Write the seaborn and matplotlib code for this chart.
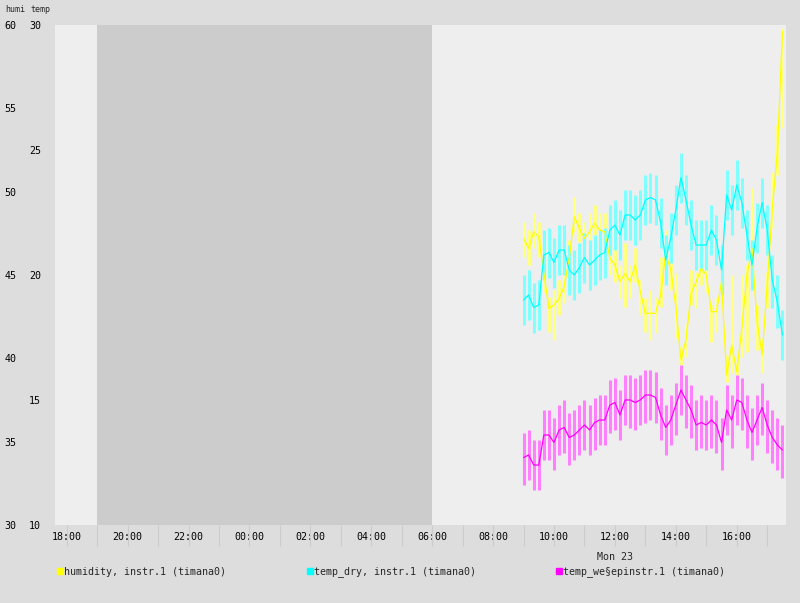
import pandas as pd
import matplotlib
matplotlib.use("Agg")
import matplotlib.pyplot as plt
import matplotlib.dates as mdates
from matplotlib.lines import Line2D
import seaborn as sns

# samples every 10 minutes, Mon 23 09:00 .. 17:30
times = pd.date_range("2015-03-23 09:00", periods=52, freq="10min")

humi = [47.2, 46.6, 47.6, 47.3, 45.1, 43.0, 43.2, 43.6, 44.3, 46.0,
        48.5, 47.8, 47.2, 47.6, 48.1, 47.7, 47.6, 46.0, 45.6, 44.6,
        45.1, 44.6, 45.6, 44.0, 42.7, 42.7, 42.7, 43.8, 46.3, 45.3,
        43.1, 39.9, 41.1, 43.9, 44.6, 45.4, 45.0, 42.8, 42.8, 44.6,
        39.0, 40.8, 39.2, 41.8, 45.0, 46.6, 42.2, 40.2, 44.4, 49.0,
        52.4, 59.6]
humi_lo = [46.1, 45.6, 46.6, 46.1, 44.0, 41.6, 41.1, 42.6, 43.3, 45.0,
           47.6, 47.0, 46.8, 47.1, 47.4, 47.0, 46.4, 45.0, 44.6, 43.6,
           43.1, 43.6, 44.6, 42.6, 41.6, 41.1, 41.5, 43.1, 45.4, 44.1,
           41.2, 39.6, 40.1, 43.2, 43.0, 44.4, 44.0, 41.0, 41.6, 43.6,
           38.6, 39.1, 39.0, 40.1, 40.4, 45.6, 40.5, 39.1, 43.0, 47.8,
           51.0, 53.8]
humi_hi = [48.2, 47.7, 48.7, 48.2, 46.1, 43.7, 44.1, 44.7, 45.4, 47.1,
           49.7, 48.7, 48.2, 48.7, 49.2, 48.7, 48.7, 46.5, 46.7, 45.6,
           46.9, 45.6, 46.6, 44.7, 43.6, 44.1, 43.7, 46.1, 47.7, 46.3,
           45.1, 40.7, 42.1, 45.3, 45.2, 46.5, 46.1, 43.2, 43.6, 45.7,
           40.2, 45.0, 39.8, 45.0, 45.6, 50.2, 43.2, 41.2, 45.2, 51.2,
           54.0, 59.8]

temp_dry = [19.0, 19.2, 18.7, 18.8, 20.8, 20.9, 20.5, 21.0, 21.0, 20.2,
            20.0, 20.3, 20.7, 20.4, 20.6, 20.8, 20.9, 21.8, 22.0, 21.6,
            22.4, 22.4, 22.2, 22.4, 23.0, 23.1, 23.0, 22.1, 20.6, 21.5,
            22.6, 23.9, 23.0, 22.0, 21.2, 21.2, 21.2, 21.8, 21.4, 20.2,
            23.2, 22.6, 23.6, 22.9, 21.6, 20.4, 21.9, 22.9, 21.8, 19.8,
            18.9, 17.6]
temp_dry_lo = [18.0, 18.2, 17.7, 17.8, 19.8, 19.9, 19.5, 20.0, 20.0, 19.2,
               19.0, 19.3, 19.7, 19.4, 19.6, 19.8, 19.9, 20.8, 21.0, 20.6,
               21.4, 21.4, 21.2, 21.4, 22.0, 22.1, 22.0, 21.1, 19.6, 20.5,
               21.6, 22.9, 22.0, 21.0, 20.2, 20.2, 20.2, 20.8, 20.4, 19.2,
               22.2, 21.6, 22.6, 21.9, 20.6, 19.4, 20.9, 21.9, 20.8, 18.7,
               17.9, 16.6]
temp_dry_hi = [20.0, 20.2, 19.7, 19.8, 21.8, 21.9, 21.5, 22.0, 22.0, 21.2,
               21.0, 21.3, 21.7, 21.4, 21.6, 21.8, 21.9, 22.8, 23.0, 22.6,
               23.4, 23.4, 23.2, 23.4, 24.0, 24.1, 24.0, 23.1, 21.6, 22.5,
               23.6, 24.9, 24.0, 23.0, 22.2, 22.2, 22.2, 22.8, 22.4, 21.2,
               24.2, 23.6, 24.6, 23.9, 22.6, 21.4, 22.9, 23.9, 22.8, 20.8,
               20.0, 18.6]

temp_wet = [12.7, 12.8, 12.4, 12.4, 13.6, 13.6, 13.3, 13.8, 13.9, 13.5,
            13.6, 13.8, 14.0, 13.8, 14.1, 14.2, 14.2, 14.8, 14.9, 14.4,
            15.0, 15.0, 14.9, 15.0, 15.2, 15.2, 15.1, 14.4, 13.9, 14.2,
            14.8, 15.4, 15.0, 14.6, 14.0, 14.1, 14.0, 14.2, 14.0, 13.3,
            14.6, 14.2, 15.0, 14.9, 14.2, 13.7, 14.2, 14.7, 14.0, 13.5,
            13.2, 13.0]
temp_wet_lo = [11.6, 11.8, 11.4, 11.4, 12.6, 12.6, 12.2, 12.8, 12.9, 12.4,
               12.6, 12.8, 13.0, 12.8, 13.0, 13.2, 13.2, 13.7, 13.8, 13.4,
               14.0, 13.9, 13.8, 14.0, 14.1, 14.2, 14.1, 13.4, 12.8, 13.2,
               13.6, 14.4, 13.9, 13.5, 13.0, 13.1, 13.0, 13.1, 12.9, 12.2,
               13.6, 13.1, 14.0, 13.8, 13.1, 12.6, 13.2, 13.6, 12.9, 12.5,
               12.2, 11.9]
temp_wet_hi = [13.7, 13.8, 13.4, 13.4, 14.6, 14.6, 14.3, 14.8, 15.0, 14.5,
               14.6, 14.8, 15.0, 14.8, 15.1, 15.2, 15.2, 15.8, 15.9, 15.4,
               16.0, 16.0, 15.9, 16.0, 16.2, 16.2, 16.1, 15.5, 14.8, 15.2,
               15.7, 16.4, 16.0, 15.6, 15.0, 15.2, 15.0, 15.2, 15.0, 14.3,
               15.6, 15.2, 16.0, 15.9, 15.2, 14.7, 15.2, 15.7, 15.0, 14.6,
               14.3, 14.0]

humi_ticks = [30, 35, 40, 45, 50, 55, 60]
temp_ticks = [10, 15, 20, 25, 30]
legend_labels = ["humidity, instr.1 (timana0)",
                 "temp_dry, instr.1 (timana0)",
                 "temp_we\u00a7epinstr.1 (timana0)"]

night_start = pd.Timestamp("2015-03-22 19:00")
night_end = pd.Timestamp("2015-03-23 06:00")
x_start = pd.Timestamp("2015-03-22 17:37")
x_end = pd.Timestamp("2015-03-23 17:37")
date_label_at = pd.Timestamp("2015-03-23 12:00")

df = pd.DataFrame({"time": times, "humi": humi, "temp_dry": temp_dry,
                   "temp_wet": temp_wet})

sns.set_theme(style="white")
plt.rcParams["font.family"] = ["DejaVu Sans Mono"]
plt.rcParams["font.size"] = 7.2

W, H = 800, 603
fig = plt.figure(figsize=(W / 100, H / 100), dpi=100, facecolor="#dddddd")
ax = fig.add_axes([55 / W, 1 - 525 / H, 731 / W, 500 / H])
axt = ax.twinx()
ax.set_facecolor("#eeeeee")
ax.set_ylim(30, 60)
axt.set_ylim(10, 30)

# everything lives in ax so the z-order can interleave humidity and temps;
# temperature series use the twin axis' data transform
tt = axt.transData
bar_w = 2.2

ax.axvspan(night_start, night_end, color="#cccccc", lw=0, zorder=0)
ax.vlines(times, humi_lo, humi_hi, color="#ffff80", lw=bar_w, zorder=1)
ax.vlines(times, temp_dry_lo, temp_dry_hi, color="#80ffff", lw=bar_w,
          zorder=1.1, transform=tt)
ax.vlines(times, temp_wet_lo, temp_wet_hi, color="#ff80ff", lw=bar_w,
          zorder=1.2, transform=tt)

sns.lineplot(data=df, x="time", y="humi", ax=ax, color="#ffff00", lw=0.9,
             errorbar=None, zorder=3)
sns.lineplot(data=df, x="time", y="temp_dry", ax=ax, color="#00ffff", lw=0.9,
             errorbar=None, zorder=3.1, transform=tt)
sns.lineplot(data=df, x="time", y="temp_wet", ax=ax, color="#ff00ff", lw=0.9,
             errorbar=None, zorder=3.2, transform=tt)

ax.set_xlim(x_start, x_end)
ax.set_ylim(30, 60)
axt.set_ylim(10, 30)
ax.set_xlabel("")
ax.set_ylabel("")

ax.xaxis.set_major_locator(mdates.HourLocator(byhour=range(0, 24, 2)))
ax.xaxis.set_major_formatter(mdates.DateFormatter("%H:%M"))
ax.xaxis.set_minor_locator(mdates.HourLocator())
ax.xaxis.remove_overlapping_locs = False
ax.tick_params(axis="x", which="major", length=0, pad=5, labelsize=7.2,
               labelcolor="black")
ax.tick_params(axis="x", which="minor", length=15, width=0.8,
               color="#cbcbcb", direction="out", bottom=True)

ax.set_yticks(humi_ticks)
ax.set_yticklabels([str(v) for v in humi_ticks])
ax.tick_params(axis="y", length=0, pad=28, labelsize=7.2, labelcolor="black")
axt.yaxis.tick_left()
axt.set_yticks(temp_ticks)
axt.set_yticklabels([str(v) for v in temp_ticks])
axt.tick_params(axis="y", length=0, pad=10, labelsize=7.2, labelcolor="black")

for a in (ax, axt):
    for s in a.spines.values():
        s.set_visible(False)
    a.grid(False)

fig.text(5 / W, 1 - 9 / H, "humi", ha="left", va="center", fontsize=6)
fig.text(30 / W, 1 - 9 / H, "temp", ha="left", va="center", fontsize=6)
ax.text(mdates.date2num(date_label_at), -32 / 500, "Mon 23",
        transform=ax.get_xaxis_transform(), ha="center", va="center",
        fontsize=7.2)

handles = [Line2D([], [], marker="s", ls="", color=c, markersize=3.8)
           for c in ["#ffff00", "#00ffff", "#ff00ff"]]
fig.legend(handles, legend_labels, loc="center left",
           bbox_to_anchor=(57.5 / W, 1 - 572 / H), ncol=3, frameon=False,
           handlelength=0.5, handletextpad=0.15, columnspacing=8.1,
           borderaxespad=0, borderpad=0, fontsize=7.2)

fig.savefig("out.png", dpi=100, facecolor=fig.get_facecolor())
